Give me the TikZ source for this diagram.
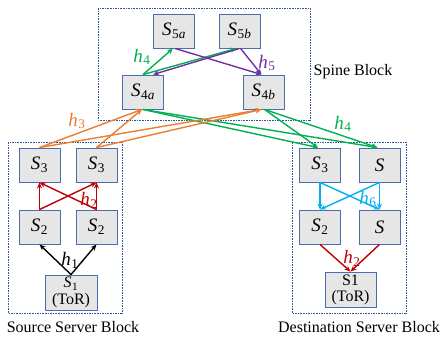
\documentclass[tikz,border=0pt]{standalone}
\usepackage{fontspec}
\setmainfont{Liberation Serif}
\usetikzlibrary{arrows.meta}
\definecolor{cgreen}{HTML}{00B050}
\definecolor{corange}{HTML}{ED7D31}
\definecolor{cpurple}{HTML}{7030A0}
\definecolor{cred}{HTML}{C00000}
\definecolor{cblue}{HTML}{00B0F0}
\definecolor{cfill}{HTML}{E7E6E6}
\definecolor{cborder}{HTML}{4A6CB0}
\definecolor{cdash}{HTML}{2F5597}
\newcommand{\sv}[2]{\textit{#1}\kern0.5pt\textsubscript{#2}}
\begin{document}
\begin{tikzpicture}[x=1pt,y=-1pt,
  box/.style={draw=cborder,fill=cfill,line width=0.9pt,minimum width=41pt,minimum height=34pt,inner sep=0pt,font=\fontsize{19}{19}\selectfont,align=center},
  tor/.style={box,minimum width=52pt,minimum height=35pt,font=\fontsize{16}{16}\selectfont},
  blockline/.style={draw=cdash,dash pattern=on 1.6pt off 1pt,line width=0.7pt},
  arr/.style={-{Stealth[length=6pt,width=5pt]},line width=1.4pt},
  lab/.style={font=\fontsize{19}{19}\selectfont},
  captext/.style={font=\fontsize{16}{18}\selectfont}]
\useasboundingbox (0,0) rectangle (442,337);
% containers
\draw[blockline] (98,8) rectangle (310,120);
\draw[blockline] (8,142) rectangle (122,313);
\draw[blockline] (292,142) rectangle (406,313);
% spine nodes
\node[box] (S5a) at (174,31) {\sv{S}{5\textit{a}}};
\node[box] (S5b) at (239.5,31) {\sv{S}{5\textit{b}}};
\node[box] (S4a) at (143,92) {\sv{S}{4\textit{a}}};
\node[box] (S4b) at (263.5,92) {\sv{S}{4\textit{b}}};
% source
\node[box] (A3) at (39.5,165) {\sv{S}{3}};
\node[box] (B3) at (96.5,165) {\sv{S}{3}};
\node[box] (A2) at (39.5,227) {\sv{S}{2}};
\node[box] (B2) at (96.5,227) {\sv{S}{2}};
\node[tor] (A1) at (71,292.5) {\sv{S}{1}\\[1pt](ToR)};
% destination
\node[box] (C3) at (320,165) {\sv{S}{3}};
\node[box] (D3) at (379.5,165) {\textit{S}};
\node[box] (C2) at (320,227) {\sv{S}{2}};
\node[box] (D2) at (379.5,227) {\textit{S}};
\node[tor,minimum width=51pt] (C1) at (350.5,289.5) {S1\\(ToR)};
% captions
\node[captext] (spcap) at (353,72) {Spine Block};
\node[captext] (srccap) at (73,327) {Source Server Block};
\node[captext] (dstcap) at (359,327) {Destination Server Block};
% spine edges
\draw[arr,cgreen] (S4a.north) -- ([xshift=-1pt]S5a.south);
\draw[arr,cgreen] (S4a.north) -- ([xshift=-3pt]S5b.south);
\draw[arr,cpurple] ([xshift=0pt]S5b.south) -- ([xshift=10pt]S4a.north);
\draw[arr,cpurple] ([xshift=1pt]S5a.south) -- ([xshift=-2pt]S4b.north);
\draw[arr,cpurple] ([xshift=1pt]S5b.south) -- ([xshift=-2pt]S4b.north);
% spine to destination
\draw[arr,cgreen] (S4a.south) -- ([xshift=-2pt]C3.north);
\draw[arr,cgreen] (S4a.south) -- ([xshift=-2pt]D3.north);
\draw[arr,cgreen] ([xshift=1pt]S4b.south) -- ([xshift=-2pt]C3.north);
\draw[arr,cgreen] ([xshift=1pt]S4b.south) -- ([xshift=-2pt]D3.north);
% source to spine
\draw[arr,corange] (A3.north) -- ([xshift=-1pt]S4a.south);
\draw[arr,corange] (A3.north) -- ([xshift=-2pt]S4b.south);
\draw[arr,corange] (B3.north) -- ([xshift=-1pt]S4a.south);
\draw[arr,corange] (B3.north) -- ([xshift=-2pt]S4b.south);
% source internal
\draw[arr,cred] (A2.north) -- (A3.south);
\draw[arr,cred] (A2.north) -- (B3.south);
\draw[arr,cred] (B2.north) -- (B3.south);
\draw[arr,cred] (B2.north) -- (A3.south);
\draw[arr,black] (A1.north) -- (A2.south);
\draw[arr,black] (A1.north) -- (B2.south);
% destination internal
\draw[arr,cblue] (C3.south) -- (C2.north);
\draw[arr,cblue] (C3.south) -- (D2.north);
\draw[arr,cblue] (D3.south) -- (D2.north);
\draw[arr,cblue] (D3.south) -- (C2.north);
\draw[arr,cred] (C2.south) -- (C1.north);
\draw[arr,cred] (D2.south) -- (C1.north);
% labels
\node[lab,text=cgreen] (l4a) at (142,57) {\sv{h}{4}};
\node[lab,text=cpurple] (l5) at (267,63) {\sv{h}{5}};
\node[lab,text=corange] (l3) at (77,121) {\sv{h}{3}};
\node[lab,text=cgreen] (l4b) at (343,124) {\sv{h}{4}};
\node[lab,text=cred] (l2a) at (89,200) {\sv{h}{2}};
\node[lab,text=black] (l1) at (70,260) {\sv{h}{1}};
\node[lab,text=cblue] (l6) at (368,199) {\sv{h}{6}};
\node[lab,text=cred] (l2b) at (352,258) {\sv{h}{2}};
\end{tikzpicture}
\end{document}
